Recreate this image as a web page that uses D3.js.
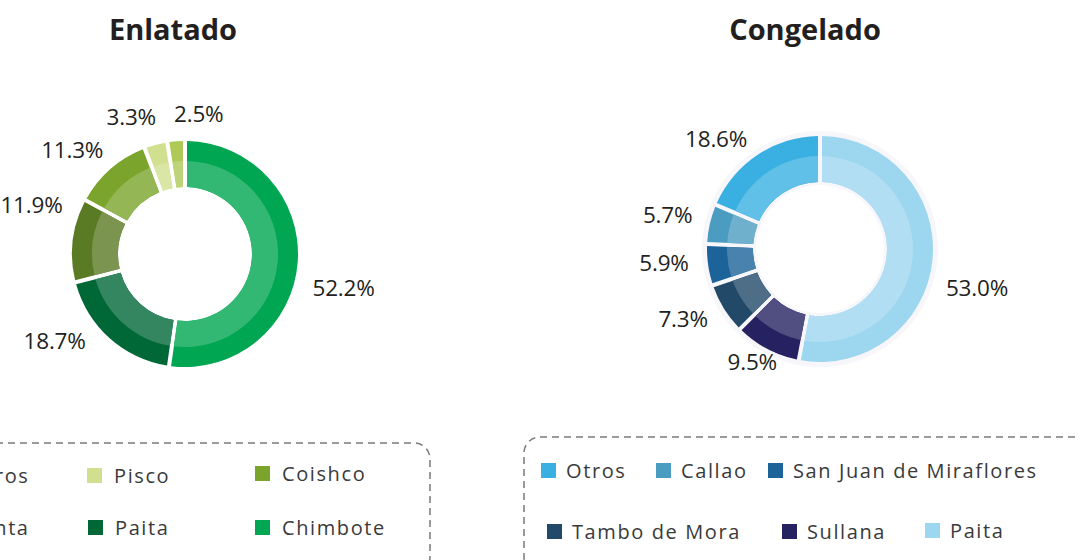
<!DOCTYPE html>
<html>
<head>
<meta charset="utf-8">
<script src="https://cdn.jsdelivr.net/npm/d3@7"></script>
<style>
  body { margin: 0; background: #fff; }
  svg { display: block; }
</style>
</head>
<body>
<div id="chart"></div>
<script>
// Enlatado
var enlCategories = ["Otros", "Pisco", "Coishco", "Santa", "Paita", "Chimbote"];
var enlValues = [2.5, 3.3, 11.3, 11.9, 18.7, 52.2];
var enlColors = ["#aec957", "#d1e08f", "#7aa42b", "#5a7a24", "#006837", "#00a651"];

// Congelado
var conCategories = ["Otros", "Callao", "San Juan de Miraflores", "Tambo de Mora", "Sullana", "Paita"];
var conValues = [18.6, 5.7, 5.9, 7.3, 9.5, 53.0];
var conColors = ["#3ab0e2", "#4b9cc1", "#1c6399", "#224968", "#262262", "#9dd6ef"];

var width = 1080, height = 560;
var svg = d3.select("#chart").append("svg")
    .attr("width", width)
    .attr("height", height);

var fmt = function(v) { return d3.format(".1f")(v) + "%"; };
var rad = Math.PI / 180;

function drawDonut(prop, cats, vals, colors) {
    var g = svg.append("g")
        .attr("transform", "translate(" + prop.cx + "," + prop.cy + ")");

    // faint halo behind the ring
    if (prop.halo) {
        g.append("circle").attr("r", prop.outer + 5).attr("fill", "#f6f6fb");
        g.append("circle").attr("r", prop.inner - 3).attr("fill", "#fff");
    }

    // legend order runs counter-clockwise, so feed the pie reversed
    var idx = d3.range(cats.length).reverse();
    var pie = d3.pie().sort(null).value(function(i) { return vals[i]; });
    var arcs = pie(idx);

    var outerArc = d3.arc().innerRadius(prop.inner).outerRadius(prop.outer)
        .padAngle(0.045).padRadius(90);
    var innerArc = d3.arc().innerRadius(prop.inner).outerRadius(prop.mid)
        .padAngle(0.045).padRadius(90);

    var slices = g.selectAll(".slice").data(arcs).enter().append("g").attr("class", "slice");
    slices.append("path")
        .attr("d", outerArc)
        .attr("fill", function(d) { return colors[d.data]; });
    slices.append("path")
        .attr("d", innerArc)
        .attr("fill", function(d) { return d3.interpolateRgb(colors[d.data], "#fff")(0.2); });

    // percentage labels (nudged round the ring a little, like the original)
    g.selectAll(".lbl").data(arcs).enter().append("text")
        .attr("class", "lbl")
        .each(function(d) {
            var a = (d.startAngle + d.endAngle) / 2 + prop.labelShift[d.data] * rad;
            var s = Math.sin(a), c = Math.cos(a);
            var top = c > 0.9;
            var r = top ? 140 : 132;
            var anchor;
            if (top) anchor = s > -0.1 ? "start" : "end";
            else if (c < 0 && Math.abs(s) < 0.6) anchor = "middle";
            else anchor = s > 0 ? "start" : "end";
            d3.select(this)
                .attr("x", s * r)
                .attr("y", -c * r)
                .attr("text-anchor", anchor);
        })
        .attr("dy", "0.35em")
        .attr("font-family", "'Open Sans', sans-serif")
        .attr("font-size", 22.5)
        .attr("letter-spacing", -0.2)
        .attr("fill", "#231f20")
        .text(function(d) { return fmt(vals[d.data]); });

    // title
    svg.append("text")
        .attr("x", prop.titleX)
        .attr("y", 40)
        .attr("text-anchor", "middle")
        .attr("font-family", "'Open Sans', sans-serif")
        .attr("font-weight", 700)
        .attr("font-size", 29)
        .attr("fill", "#231f20")
        .text(prop.title);

    // legend box
    var b = prop.box;
    svg.append("rect")
        .attr("x", b[0]).attr("y", b[1])
        .attr("width", b[2]).attr("height", b[3])
        .attr("rx", 16).attr("ry", 16)
        .attr("fill", "none")
        .attr("stroke", "#7a7a7a")
        .attr("stroke-width", 1.5)
        .attr("stroke-dasharray", "7,5");

    var items = svg.selectAll(null).data(cats).enter().append("g")
        .attr("transform", function(d, i) {
            return "translate(" + prop.legendPos[i][0] + "," + prop.legendPos[i][1] + ")";
        });
    items.append("rect")
        .attr("width", 15).attr("height", 15)
        .attr("fill", function(d, i) { return colors[i]; });
    items.append("text")
        .attr("x", prop.legendGap)
        .attr("y", 7.5)
        .attr("dy", "0.35em")
        .attr("font-family", "'Open Sans', sans-serif")
        .attr("font-size", 20)
        .attr("letter-spacing", 1.6)
        .attr("fill", "#3a3a3a")
        .text(function(d) { return d; });
}

drawDonut({
    title: "Enlatado", titleX: 173,
    cx: 185, cy: 254, outer: 113, mid: 93, inner: 67, halo: false,
    labelShift: [0, 3, 3, 15, 7, 11],
    box: [-20, 443, 450, 130],
    legendGap: 27,
    legendPos: [[-58, 468], [87, 468], [255, 466], [-58, 520], [88, 520], [255, 520]]
}, enlCategories, enlValues, enlColors);

drawDonut({
    title: "Congelado", titleX: 805,
    cx: 820, cy: 249, outer: 113, mid: 93, inner: 67, halo: true,
    labelShift: [0, 2, 2, 0, 3, 12],
    box: [524, 437, 580, 136],
    legendGap: 25,
    legendPos: [[541, 463], [656, 463], [768, 463], [547, 524], [782, 524], [925, 523]]
}, conCategories, conValues, conColors);
</script>
</body>
</html>
